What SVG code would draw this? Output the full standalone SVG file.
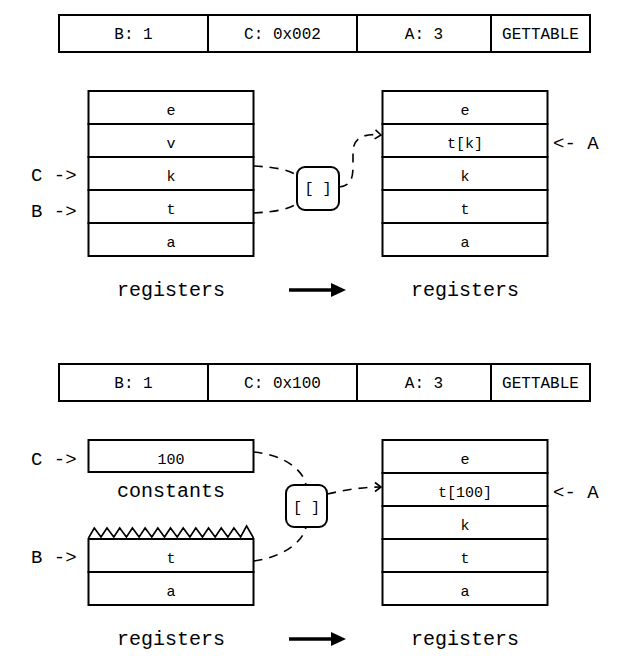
<svg xmlns="http://www.w3.org/2000/svg" width="640" height="656" viewBox="0 0 640 656">
<defs>
<style>
.box{fill:#fff;stroke:#000;stroke-width:2}
.op{fill:#fff;stroke:#000;stroke-width:2}
.cell{font-family:"Liberation Mono","Courier New",monospace;font-size:15px;fill:#000;text-anchor:middle}
.bar{font-family:"Liberation Mono","Courier New",monospace;font-size:16px;fill:#000;text-anchor:middle}
.lbl{font-family:"Liberation Mono","Courier New",monospace;font-size:20px;fill:#000}
.ptr{font-family:"Liberation Mono","Courier New",monospace;font-size:19px;fill:#000}
.dash{fill:none;stroke:#000;stroke-width:1.6;stroke-dasharray:9 7}
.dashA{fill:none;stroke:#000;stroke-width:1.6;stroke-dasharray:9 7;marker-end:url(#chev)}
.big{stroke:#000;stroke-width:3.5}
</style>
<marker id="chev" markerWidth="12" markerHeight="12" refX="9" refY="6" orient="auto" markerUnits="userSpaceOnUse">
<path d="M3,1.5 L9,6 L3,10.5" fill="none" stroke="#000" stroke-width="1.6"/>
</marker>
</defs>
<rect width="640" height="656" fill="#fff"/>

<!-- ===== Top example ===== -->
<g id="instr1">
<rect class="box" x="59" y="15" width="531" height="37"/>
<line x1="208" y1="15" x2="208" y2="52" stroke="#000" stroke-width="2"/>
<line x1="357" y1="15" x2="357" y2="52" stroke="#000" stroke-width="2"/>
<line x1="491" y1="15" x2="491" y2="52" stroke="#000" stroke-width="2"/>
<text class="bar" x="133.5" y="38.5">B: 1</text>
<text class="bar" x="282.5" y="38.5">C: 0x002</text>
<text class="bar" x="424" y="38.5">A: 3</text>
<text class="bar" x="540.5" y="38.5">GETTABLE</text>
</g>

<g id="regs1">
<rect class="box" x="88.5" y="91" width="165" height="33"/>
<rect class="box" x="88.5" y="124" width="165" height="33"/>
<rect class="box" x="88.5" y="157" width="165" height="33"/>
<rect class="box" x="88.5" y="190" width="165" height="33"/>
<rect class="box" x="88.5" y="223" width="165" height="33"/>
<text class="cell" x="171" y="115">e</text>
<text class="cell" x="171" y="148">v</text>
<text class="cell" x="171" y="181">k</text>
<text class="cell" x="171" y="214">t</text>
<text class="cell" x="171" y="247">a</text>
<text class="lbl" x="171" y="295.5" text-anchor="middle">registers</text>
<text class="ptr" x="31" y="181">C -&gt;</text>
<text class="ptr" x="31" y="217">B -&gt;</text>
</g>

<g id="op1">
<rect class="op" x="297" y="167" width="42" height="43" rx="8"/>
<text class="cell" x="318" y="193">[ ]</text>
</g>

<g id="regs1b">
<rect class="box" x="382.5" y="91" width="165" height="33"/>
<rect class="box" x="382.5" y="124" width="165" height="33"/>
<rect class="box" x="382.5" y="157" width="165" height="33"/>
<rect class="box" x="382.5" y="190" width="165" height="33"/>
<rect class="box" x="382.5" y="223" width="165" height="33"/>
<text class="cell" x="465" y="115">e</text>
<text class="cell" x="465" y="148">t[k]</text>
<text class="cell" x="465" y="181">k</text>
<text class="cell" x="465" y="214">t</text>
<text class="cell" x="465" y="247">a</text>
<text class="lbl" x="465" y="295.5" text-anchor="middle">registers</text>
<text class="ptr" x="553" y="149">&lt;- A</text>
</g>

<!-- ===== Bottom example ===== -->
<g id="instr2">
<rect class="box" x="59" y="364" width="531" height="37"/>
<line x1="208" y1="364" x2="208" y2="401" stroke="#000" stroke-width="2"/>
<line x1="357" y1="364" x2="357" y2="401" stroke="#000" stroke-width="2"/>
<line x1="491" y1="364" x2="491" y2="401" stroke="#000" stroke-width="2"/>
<text class="bar" x="133.5" y="387.5">B: 1</text>
<text class="bar" x="282.5" y="387.5">C: 0x100</text>
<text class="bar" x="424" y="387.5">A: 3</text>
<text class="bar" x="540.5" y="387.5">GETTABLE</text>
</g>

<g id="consts">
<rect class="box" x="88.5" y="440" width="165" height="32"/>
<text class="cell" x="171" y="464">100</text>
<text class="lbl" x="171" y="497" text-anchor="middle">constants</text>
<text class="ptr" x="31" y="465">C -&gt;</text>
</g>

<g id="regs2">
<polyline points="88.5,538 94.3,528 101,537 107,528 113.8,537 119.7,528 126.4,537 132.4,528 139.1,537 145.1,528 151.8,537 157.8,528 164.5,537 170.5,528 177.2,537 183.2,528 189.9,537 195.8,528 202.5,537 208.5,528 215.2,537 221.2,528 227.9,537 233.9,528 240.6,537 246.6,526 253.5,538" fill="none" stroke="#000" stroke-width="1.6"/>
<rect class="box" x="88.5" y="539" width="165" height="33"/>
<rect class="box" x="88.5" y="572" width="165" height="33"/>
<text class="cell" x="171" y="563">t</text>
<text class="cell" x="171" y="596">a</text>
<text class="lbl" x="171" y="645" text-anchor="middle">registers</text>
<text class="ptr" x="31" y="563">B -&gt;</text>
</g>

<g id="op2">
<rect class="op" x="286" y="485" width="41" height="42" rx="8"/>
<text class="cell" x="306.5" y="512">[ ]</text>
</g>

<g id="regs2b">
<rect class="box" x="382.5" y="440" width="165" height="33"/>
<rect class="box" x="382.5" y="473" width="165" height="33"/>
<rect class="box" x="382.5" y="506" width="165" height="33"/>
<rect class="box" x="382.5" y="539" width="165" height="33"/>
<rect class="box" x="382.5" y="572" width="165" height="33"/>
<text class="cell" x="465" y="464">e</text>
<text class="cell" x="465" y="497">t[100]</text>
<text class="cell" x="465" y="530">k</text>
<text class="cell" x="465" y="563">t</text>
<text class="cell" x="465" y="596">a</text>
<text class="lbl" x="465" y="645" text-anchor="middle">registers</text>
<text class="ptr" x="553" y="498">&lt;- A</text>
</g>

<!-- ===== Connectors ===== -->
<g id="connectors">
<path class="dash" d="M253.5,166 C275,167 290,170 298,176"/>
<path class="dash" d="M253.5,213 C275,212 290,209 298,203"/>
<path class="dashA" d="M339,187 C351,186 353,178 353,166 L353,152 C353,139 362,133 381,135"/>
<line class="big" x1="289" y1="290" x2="333" y2="290"/>
<polygon points="331,283 346,290 331,297" fill="#000"/>

<path class="dash" d="M253.5,452 C278,454 302,466 306,485"/>
<path class="dash" d="M253.5,561 C278,558 302,545 306,527"/>
<path class="dashA" d="M327,494 C345,490 362,487 381,487"/>
<line class="big" x1="289" y1="639" x2="333" y2="639"/>
<polygon points="331,632 346,639 331,646" fill="#000"/>
</g>
</svg>
